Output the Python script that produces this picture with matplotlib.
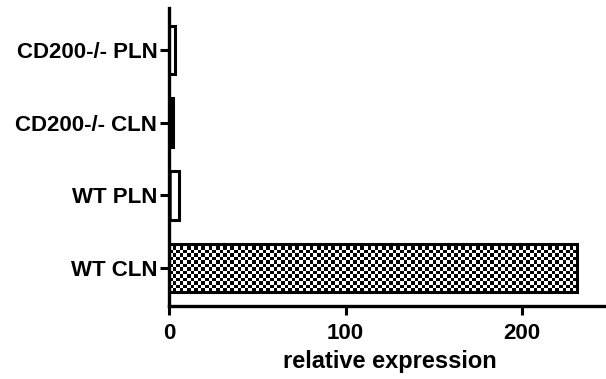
import numpy as np
import matplotlib.pyplot as plt

groups = ["WT CLN", "WT PLN", "CD200-/- CLN", "CD200-/- PLN"]
values = [231, 5.5, 2, 3.5]
xticks = [0, 100, 200]

plt.rcParams["font.family"] = ["Liberation Sans", "DejaVu Sans"]
plt.rcParams["font.weight"] = "bold"
plt.rcParams["hatch.linewidth"] = 1.2

fig = plt.figure(figsize=(6.06, 3.79), dpi=100)
ax = fig.add_axes([0.279, 0.193, 0.728, 0.786])

ypos = np.arange(len(groups))
bars = ax.barh(ypos, values, height=0.67, color="white", edgecolor="black", linewidth=2.2, zorder=2)
bars[0].set_facecolor("none")
bars[2].set_facecolor("black")
bars[1].set_hatch("||")
bars[3].set_hatch("|")

# checkerboard fill for the big bar
b = bars[0]
x0, y0 = b.get_x(), b.get_y()
w, h = b.get_width(), b.get_height()
nx, ny = int(round(w * 1.765 / 3.6)), int(round(h * 72.7 / 3.6))
chk = (np.add.outer(np.arange(ny), np.arange(nx)) % 2).astype(float)
ax.imshow(chk, cmap="gray", extent=[x0, x0 + w, y0, y0 + h], aspect="auto",
          interpolation="nearest", zorder=1.9)
ax.set_xlim(0, 250)
ax.set_ylim(-0.52, 3.58)

ax.set_xticks(xticks)
ax.set_yticks(ypos)
ax.set_yticklabels(groups)
ax.tick_params(axis="both", width=2.2, length=6.5, labelsize=16, pad=2)
ax.tick_params(axis="x", pad=6)
ax.set_xlabel("relative expression", fontsize=17, fontweight="bold", labelpad=4)

for s in ["top", "right"]:
    ax.spines[s].set_visible(False)
for s in ["left", "bottom"]:
    ax.spines[s].set_linewidth(2.4)

fig.savefig("out.png", dpi=100)
